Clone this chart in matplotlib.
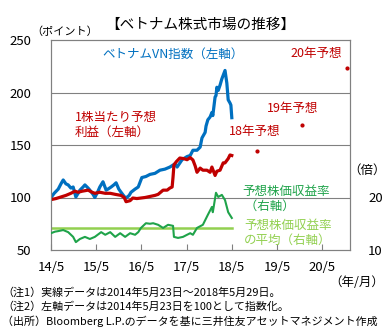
import matplotlib
matplotlib.use("Agg")
import matplotlib.pyplot as plt

plt.rcParams['font.family'] = ['Noto Sans CJK JP', 'DejaVu Sans']

# x = years since 2014/5/23
vn_t = [0, 0.07, 0.16, 0.22, 0.27, 0.33, 0.38, 0.44, 0.49, 0.55, 0.60, 0.64, 0.71, 0.75,
        0.82, 0.86, 0.93, 0.97, 1.04, 1.08, 1.15, 1.22, 1.26, 1.33, 1.39, 1.44, 1.50, 1.55,
        1.62, 1.66, 1.73, 1.77, 1.86, 1.93, 2.01, 2.10, 2.19, 2.30, 2.41, 2.52, 2.63, 2.74,
        2.79, 2.90, 3.01, 3.08, 3.14, 3.23, 3.30, 3.34, 3.41, 3.43, 3.47, 3.52, 3.56, 3.58,
        3.63, 3.65, 3.67, 3.70, 3.74, 3.78, 3.85, 3.89, 3.92, 3.96, 3.98, 4.00]
vn_v = [100, 104, 108, 113, 116.7, 113, 112, 109, 110, 100.5, 104, 107, 110, 112,
        109, 107, 103, 100, 106, 110, 115, 107, 108, 110, 112, 114, 108, 105,
        101, 99.5, 102, 105, 108, 110, 119, 120, 122, 123, 126, 127, 129, 132,
        129, 136, 139, 140, 145, 145, 148, 156.7, 162, 168, 174, 176.7, 181, 178,
        195.7, 197, 205, 202, 207, 213, 221, 209, 193, 190, 188, 176]

eps_t = [0, 0.11, 0.22, 0.33, 0.44, 0.53, 0.60, 0.69, 0.82, 0.91, 0.97, 1.08, 1.20, 1.31,
         1.42, 1.55, 1.62, 1.66, 1.75, 1.81, 1.90, 1.99, 2.08, 2.19, 2.30, 2.37, 2.48, 2.57,
         2.63, 2.68, 2.70, 2.72, 2.77, 2.85, 2.94, 3.01, 3.08, 3.14, 3.19, 3.23, 3.30, 3.36,
         3.45, 3.52, 3.56, 3.63, 3.67, 3.74, 3.81, 3.85, 3.92, 3.96, 4.00]
eps_v = [98, 99, 100.5, 102, 104, 106, 105, 106, 107, 105, 104, 105, 104, 104,
         103, 102, 100, 96, 97, 99.5, 99, 99.5, 100, 101, 102, 103, 107, 107,
         109, 110, 119.5, 131, 134, 137.6, 137, 136, 138, 135.7, 130, 124, 128, 126,
         126, 124, 129, 121, 125, 126, 133, 133, 137, 140.5, 140]

per_t = [0, 0.09, 0.16, 0.27, 0.38, 0.49, 0.55, 0.64, 0.75, 0.86, 0.97, 1.11, 1.20, 1.31,
         1.42, 1.53, 1.64, 1.75, 1.86, 1.93, 1.99, 2.10, 2.19, 2.26, 2.37, 2.48, 2.59, 2.70,
         2.72, 2.81, 2.92, 3.01, 3.08, 3.14, 3.23, 3.36, 3.47, 3.56, 3.58, 3.65, 3.70, 3.78,
         3.85, 3.92, 4.00]
per_v = [13.2, 13.5, 13.6, 13.8, 13.4, 12.5, 11.5, 12.1, 12.5, 12.1, 12.5, 13.4, 12.9, 13.4,
         12.5, 13.2, 12.5, 13.2, 12.9, 13.4, 14.2, 15.1, 15.0, 15.1, 14.8, 14.2, 14.8, 14.6,
         12.5, 12.3, 12.5, 12.9, 13.2, 12.9, 14.2, 14.8, 16.7, 18.2, 17.2, 20.9, 20.1, 20.5,
         19.5, 17.2, 16.1]
per_avg = 14.1

fc_t = [4.56, 5.55, 6.55]
fc_v = [144.3, 169, 223]

xticks = [0, 1, 2, 3, 4, 5, 6]
xlabels = ['14/5', '15/5', '16/5', '17/5', '18/5', '19/5', '20/5']

blue = '#0070c0'
red = '#c00000'
green = '#1fa34a'
lgreen = '#92d050'
grey = '#808080'

fig = plt.figure(figsize=(3.87, 3.28), dpi=100)
ax = fig.add_axes([51 / 387, 78 / 328, 299 / 387, 210 / 328])
ax2 = ax.twinx()

ax.set_xlim(0, 6.615)
ax.set_ylim(50, 250)
ax.set_yticks([50, 100, 150, 200, 250])
for y in [100, 150, 200]:
    ax.axhline(y, color=grey, lw=0.8, zorder=0)
ax.plot(eps_t, eps_v, color=red, lw=2.3, zorder=3)
ax.plot(vn_t, vn_v, color=blue, lw=2.3, zorder=2)
ax.scatter(fc_t, fc_v, color=red, s=4, zorder=4)

ax2.set_ylim(10, 50)
ax2.set_yticks([10, 20])
ax2.plot([0, 4.0], [per_avg, per_avg], color=lgreen, lw=1.8, zorder=2)
ax2.plot(per_t, per_v, color=green, lw=1.5, zorder=3)

ax.set_xticks(xticks)
ax.set_xticklabels(xlabels)
ax.tick_params(axis='x', direction='in', length=4, color=grey, labelsize=9.5, pad=8)
ax.tick_params(axis='y', length=0, labelsize=9.5, pad=14)
ax2.tick_params(axis='y', length=0, labelsize=9.5, pad=13)
for a in (ax, ax2):
    for s in a.spines.values():
        s.set_color(grey)
        s.set_linewidth(0.8)

fig.text(200 / 387, 1 - 25 / 328, '【ベトナム株式市場の推移】', ha='center', va='center', fontsize=10.5)
fig.text(65 / 387, 1 - 32 / 328, '（ポイント）', ha='center', va='center', fontsize=8)
fig.text(367 / 387, 1 - 170 / 328, '（倍）', ha='center', va='center', fontsize=9)
fig.text(357 / 387, 1 - 283 / 328, '（年/月）', ha='center', va='center', fontsize=9)

def lbl(x, y, s, c, ha='left'):
    fig.text(x / 387, 1 - y / 328, s, ha=ha, va='center', fontsize=9, color=c, linespacing=1.25)

lbl(173, 54, 'ベトナムVN指数（左軸）', blue, 'center')
lbl(290, 54, '20年予想', red)
lbl(75, 125, '1株当たり予想\n利益（左軸）', red)
lbl(267, 108, '19年予想', red)
lbl(229, 132, '18年予想', red)
lbl(242, 199, '予想株価収益率\n （右軸）', green)
lbl(244, 233, '予想株価収益率\nの平均（右軸）', lgreen)

notes = ['（注1）実線データは2014年5月23日～2018年5月29日。',
         '（注2）左軸データは2014年5月23日を100として指数化。',
         '（出所）Bloomberg L.P.のデータを基に三井住友アセットマネジメント作成']
for i, n in enumerate(notes):
    fig.text(2 / 387, 1 - (293 + 14 * i) / 328, n, ha='left', va='center', fontsize=7.9)

fig.savefig('out.png', dpi=100)
